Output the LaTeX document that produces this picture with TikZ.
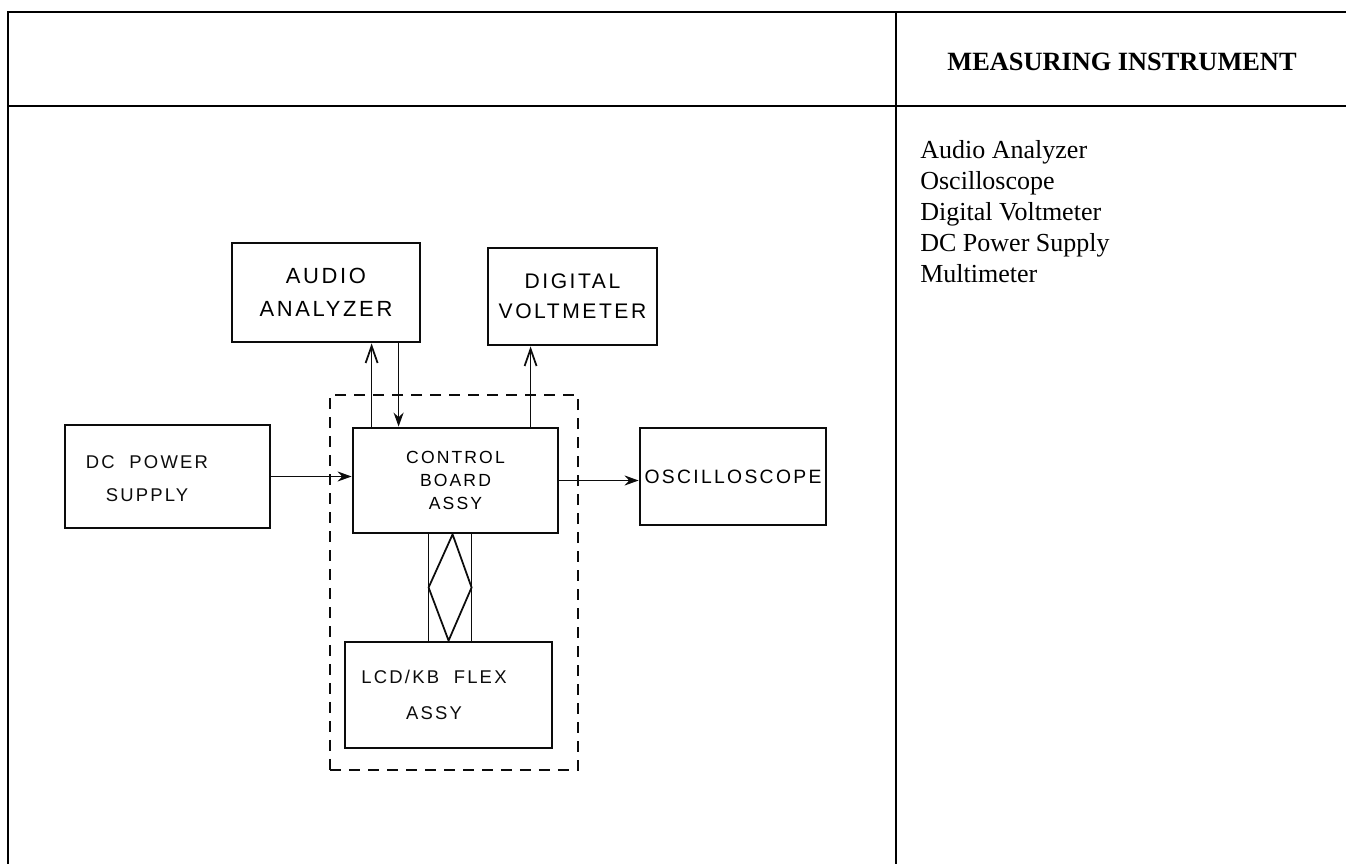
\documentclass[tikz,border=0pt]{standalone}
\usepackage{fontspec}
\setmainfont{Liberation Serif}
\newfontfamily\lettering[LetterSpace=12]{Liberation Sans}
\usetikzlibrary{arrows.meta,calc}
\definecolor{tblink}{RGB}{0,0,0}
\definecolor{sketchink}{RGB}{12,12,12}

\begin{document}
\begin{tikzpicture}[
  x=0.02cm, y=-0.02cm,
  rule/.style={draw=tblink, line width=1.1pt},
  unit/.style={draw=sketchink, line width=1.6pt, align=center, inner sep=0pt},
  tag/.style={text=sketchink, align=center, inner sep=0pt},
  wire/.style={draw=sketchink, line width=1pt},
  feed/.style={wire, -{Stealth[length=2.8mm,width=2mm]}},
  probe/.style={wire, -{Straight Barb[length=3.4mm,width=2.4mm]}},
  boundary/.style={draw=sketchink, line width=1pt, dash pattern=on 0.22cm off 0.16cm},
  heading/.style={font=\bfseries\fontsize{15}{18}\selectfont},
  entry/.style={font=\fontsize{14.8}{17.6}\selectfont, anchor=base west, inner sep=0pt}
]
\useasboundingbox (0,0) rectangle (1346,864);

\draw[rule] (8,864) -- (8,12) -- (1346,12);
\draw[rule] (8,106) -- (1346,106);
\draw[rule] (896,12) -- (896,864);

\node[heading] (head) at (1122,62) {MEASURING INSTRUMENT};
\foreach \name [count=\i] in {Audio Analyzer, Oscilloscope, Digital Voltmeter, DC Power Supply, Multimeter}
  \node[entry] (item\i) at (920,128+31*\i) {\name};

\node[boundary, minimum width=4.96cm, minimum height=7.5cm] (module) at (454,582.5) {};

\node[unit, minimum width=3.76cm, minimum height=1.98cm, font=\lettering\fontsize{12.5}{18.7}\selectfont] (audio) at (326,292.5) {AUDIO\\ANALYZER};
\node[unit, minimum width=3.38cm, minimum height=1.94cm, font=\lettering\fontsize{12}{17}\selectfont] (vm) at (572.5,296.5) {DIGITAL\\VOLTMETER};
\node[unit, minimum width=4.1cm, minimum height=2.06cm] (dc) at (167.5,476.5) {};
\node[tag, font=\lettering\fontsize{10.5}{18.7}\selectfont] (dcText) at (147,478.5) {DC\ \ POWER\\SUPPLY};
\node[unit, minimum width=4.1cm, minimum height=2.1cm, font=\lettering\fontsize{10}{13.3}\selectfont] (ctrl) at (455.5,480.5) {CONTROL\\BOARD\\ASSY};
\node[unit, minimum width=3.72cm, minimum height=1.94cm, font=\lettering\fontsize{11}{13}\selectfont] (osc) at (733,476.5) {OSCILLOSCOPE};
\node[unit, minimum width=4.14cm, minimum height=2.12cm] (lcd) at (448.5,695) {};
\node[tag, font=\lettering\fontsize{10.5}{20.4}\selectfont] (lcdText) at (434,695) {LCD/KB\ \ FLEX\\ASSY};

\draw[probe] ([xshift=0.4cm]ctrl.north west) -- ([xshift=0.4cm]ctrl.north west |- audio.south);
\draw[feed] ([xshift=0.94cm]ctrl.north west |- audio.south) -- ([xshift=0.94cm]ctrl.north west);
\draw[probe] ([xshift=3.58cm]ctrl.north west) -- ([xshift=3.58cm]ctrl.north west |- vm.south);
\draw[feed] (dc.east) -- (dc.east -| ctrl.west);
\draw[feed] (ctrl.east) -- (ctrl.east -| osc.west);

\coordinate (busLt) at ([xshift=1.54cm]ctrl.south west);
\coordinate (busLb) at (busLt |- lcd.north);
\coordinate (busRt) at ([xshift=2.4cm]ctrl.south west);
\coordinate (busRb) at (busRt |- lcd.north);
\draw[wire] (busLt) -- (busLb);
\draw[wire] (busRt) -- (busRb);
\draw[wire] ([xshift=2.02cm]ctrl.south west) -- ($(busLt)!0.5!(busLb)$) -- ([xshift=2.1cm]lcd.north west) -- ($(busRt)!0.5!(busRb)$) -- cycle;
\end{tikzpicture}
\end{document}
